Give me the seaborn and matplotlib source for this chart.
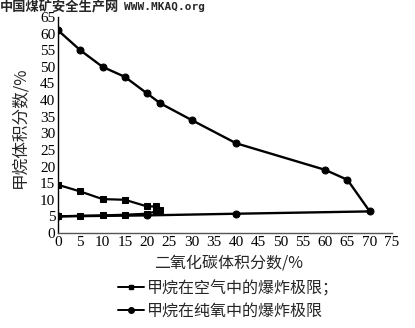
import matplotlib
matplotlib.use("Agg")
import matplotlib.pyplot as plt
import seaborn as sns
import pandas as pd
from matplotlib.lines import Line2D

# Methane explosion limits in air (square markers), path around the envelope
air_co2 = [0, 5, 10, 15, 20, 22, 23, 22, 20, 15, 10, 5, 0]
air_ch4 = [14.5, 12.5, 10.2, 10, 8, 8, 7, 6.5, 5.8, 5.5, 5.3, 5.2, 5]

# Methane explosion limits in pure oxygen (circle markers)
oxy_co2 = [0, 5, 10, 15, 20, 23, 30, 40, 60, 65, 70, 40, 20, 0]
oxy_ch4 = [61, 55, 50, 47, 42, 39, 34, 27, 19, 16, 6.5, 5.8, 5.3, 5]

x_ticks = list(range(0, 80, 5))
y_ticks = list(range(0, 70, 5))

xlabel = "二氧化碳体积分数/%"
ylabel = "甲烷体积分数/%"
legend_labels = ["甲烷在空气中的爆炸极限；", "甲烷在纯氧中的爆炸极限"]
header = "中国煤矿安全生产网"
header2 = "WWW.MKAQ.org"

sns.set_theme(style="ticks")
plt.rcParams['font.family'] = ['Noto Sans CJK SC', 'DejaVu Sans']

fig = plt.figure(figsize=(4.15, 3.28), dpi=100)
ax = fig.add_axes([58/415, 95/328, 334/415, 216/328])

air_df = pd.DataFrame({"x": air_co2, "y": air_ch4})
oxy_df = pd.DataFrame({"x": oxy_co2, "y": oxy_ch4})

sns.lineplot(data=oxy_df, x="x", y="y", sort=False, estimator=None, ax=ax,
             color="black", linewidth=1.7, marker="o", markersize=5,
             markeredgecolor="black")
sns.lineplot(data=air_df, x="x", y="y", sort=False, estimator=None, ax=ax,
             color="black", linewidth=1.6, marker="s", markersize=4.5,
             markeredgecolor="black")

ax.set_xlim(0, 75)
ax.set_ylim(0, 65)
ax.set_xticks(x_ticks)
ax.set_yticks(y_ticks)
ax.set_xticklabels([str(v) for v in x_ticks], family="Liberation Serif", fontsize=11)
ax.set_yticklabels([str(v) for v in y_ticks], family="Liberation Serif", fontsize=11)
ax.tick_params(length=0, pad=2, colors="black")
ax.set_xlabel("")
ax.set_ylabel("")
for s in ["top", "right"]:
    ax.spines[s].set_visible(False)
ax.spines["left"].set_color("black")
ax.spines["bottom"].set_color("#555555")
ax.spines["left"].set_linewidth(1.0)
ax.spines["bottom"].set_linewidth(1.0)

fig.text(229/415, 1 - 263/328, xlabel, ha="center", va="center", fontsize=11.5)
fig.text(20/415, 1 - 127/328, ylabel, ha="center", va="center", rotation=90, fontsize=12)

handles = [Line2D([0], [0], color="black", lw=1.4, marker="s", markersize=3.5),
           Line2D([0], [0], color="black", lw=1.4, marker="o", markersize=4)]
fig.legend(handles, legend_labels, loc="upper left",
           bbox_to_anchor=(118/415, 1 - 280/328), frameon=False,
           handlelength=1.6, handletextpad=0.2, labelspacing=0.35,
           borderpad=0, borderaxespad=0, prop={"size": 11.5})

fig.text(0, 1 - 7/328, header, ha="left", va="center", fontsize=9.5, fontweight="bold")
fig.text(124/415, 1 - 7/328, header2, ha="left", va="center", fontsize=8,
         fontweight="bold", family="DejaVu Sans Mono")

fig.savefig("out.png", dpi=100)
